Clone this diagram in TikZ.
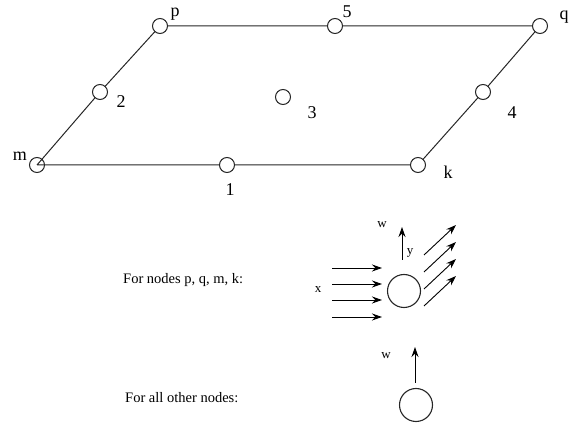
\documentclass[tikz,border=0pt]{standalone}
\usepackage{fontspec}
\setmainfont{Liberation Serif}
\usetikzlibrary{arrows.meta}
\begin{document}
\begin{tikzpicture}[x=1pt,y=-1pt,
 vtx/.style={circle,draw=black!85,line width=1pt,fill=white,minimum size=15pt,inner sep=0pt},
 bigc/.style={circle,draw=black!85,line width=1.1pt,minimum size=33pt,inner sep=0pt},
 edge/.style={draw=black!85,line width=1pt},
 lbl/.style={font=\fontsize{18}{18}\selectfont,inner sep=0pt},
 small/.style={font=\fontsize{13}{13}\selectfont,inner sep=0pt},
 txt/.style={font=\fontsize{14.5}{14.5}\selectfont,inner sep=0pt,anchor=west},
 arr/.style={-{Stealth[length=10pt,width=7pt]},line width=0.9pt}]
\useasboundingbox (0,0) rectangle (579,430);
% grid nodes
\node[vtx] (m) at (37,165) {};
\node[vtx] (n1) at (227,165) {};
\node[vtx] (k) at (418,165) {};
\node[vtx] (n2) at (100,92) {};
\node[vtx] (n3) at (283,97) {};
\node[vtx] (n4) at (483,92) {};
\node[vtx] (p) at (160,26) {};
\node[vtx] (n5) at (335,26) {};
\node[vtx] (q) at (540,26) {};
\draw[edge] (m.center) -- (n1) -- (k) -- (n4) -- (q) -- (n5) -- (p) -- (n2) -- (m.center);
% labels
\node[lbl] (lp) at (175,14) {p};
\node[lbl] (l5) at (347,12) {5};
\node[lbl] (lq) at (564,17) {q};
\node[lbl] (l2) at (121,102) {2};
\node[lbl] (l3) at (312,113) {3};
\node[lbl] (l4) at (512,113) {4};
\node[lbl] (lm) at (20,156) {m};
\node[lbl] (l1) at (230,190) {1};
\node[lbl] (lk) at (448,172) {k};
% legend texts
\node[txt] (t1) at (123,280) {For nodes p, q, m, k:};
\node[txt] (t2) at (125,398) {For all other nodes:};
% corner node diagram
\node[bigc] (c1) at (404,291) {};
\foreach \yy/\nm in {268/a,284/b,300/c,317/d}{
  \coordinate (s\nm) at (332,\yy);
  \coordinate (e\nm) at (382,\yy);
  \draw[arr] (s\nm) -- (e\nm);
}
\foreach \yy/\nm in {0/a,17/b,34/c,51/d}{
  \coordinate (ds\nm) at (424,255+\yy);
  \coordinate (de\nm) at (456,225+\yy);
  \draw[arr] (ds\nm) -- (de\nm);
}
\coordinate (ys) at (402,260);
\coordinate (ye) at (402,227);
\draw[arr] (ys) -- (ye);
\node[small] (lw1) at (382,225) {w};
\node[small] (ly) at (410,253) {y};
\node[small] (lx) at (318,290) {x};
% other node diagram
\node[bigc] (c2) at (416,405) {};
\coordinate (ws) at (415,383);
\coordinate (we) at (415,347);
\draw[arr] (ws) -- (we);
\node[small] (lw2) at (386,356) {w};
\end{tikzpicture}
\end{document}
